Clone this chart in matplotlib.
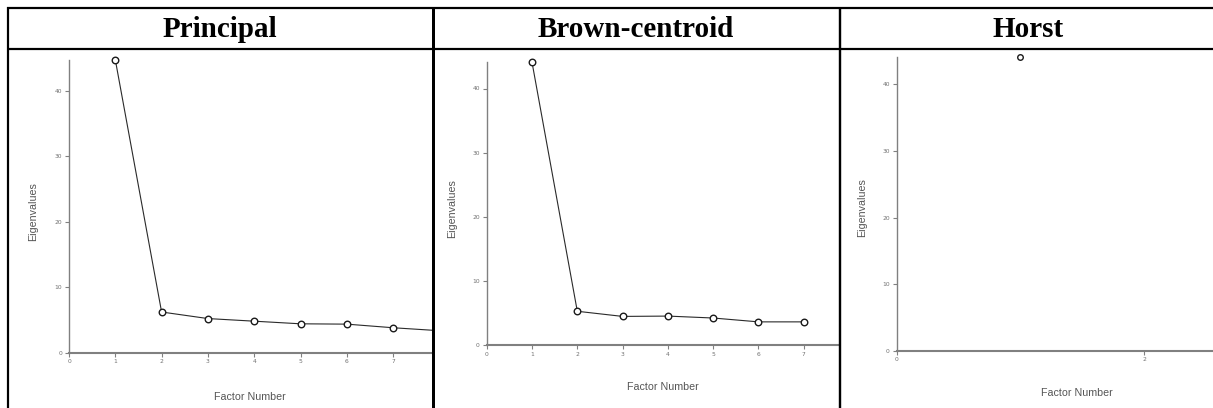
import matplotlib
matplotlib.use("Agg")
import matplotlib.pyplot as plt
from matplotlib.lines import Line2D

# ---- data ----
titles = ["Principal", "Brown-centroid", "Horst"]
principal_factors = [1, 2, 3, 4, 5, 6, 7, 8]
principal_eigen = [44.7, 6.25, 5.25, 4.85, 4.45, 4.4, 3.85, 3.4]
brown_factors = [1, 2, 3, 4, 5, 6, 7]
brown_eigen = [44.1, 5.3, 4.5, 4.55, 4.25, 3.65, 3.65]
horst_factors = [1]
horst_eigen = [44.1]
y_ticks = [0, 10, 20, 30, 40]
principal_xticks = [0, 1, 2, 3, 4, 5, 6, 7]
brown_xticks = [0, 1, 2, 3, 4, 5, 6, 7]
horst_xticks = [0, 2]

W, H = 1213, 408
fig = plt.figure(figsize=(W / 100, H / 100), dpi=100)
fig.patch.set_facecolor("white")


def px_axes(left, top, right, bottom):
    return fig.add_axes([left / W, 1 - bottom / H, (right - left) / W, (bottom - top) / H])


def hline(y, x0, x1, lw=2.2):
    fig.add_artist(Line2D([x0 / W, x1 / W], [1 - y / H, 1 - y / H], color="black",
                          lw=lw * 72 / 100, transform=fig.transFigure, solid_capstyle="butt"))


def vline(x, y0, y1, lw=2.2):
    fig.add_artist(Line2D([x / W, x / W], [1 - y0 / H, 1 - y1 / H], color="black",
                          lw=lw * 72 / 100, transform=fig.transFigure, solid_capstyle="butt"))


# table borders
hline(7.8, 6.8, 1218)
hline(48.6, 6.8, 1218)
vline(7.8, 6.8, 410)
vline(433.0, 6.8, 410, lw=3)
vline(840.0, 6.8, 410, lw=2.4)

# headers
header_x = [220, 636, 1028.5]
for t, hx in zip(titles, header_x):
    fig.text(hx / W, 1 - 36.6 / H, t, ha="center", va="baseline",
             family="Liberation Serif", fontweight="bold", fontsize=21)

# panel geometry: (axis x px, axis y px, px per x unit, px per y unit, right edge px)
panels = [
    (principal_factors, principal_eigen, principal_xticks, 69.0, 353.0, 46.3, 6.56, 431.5, 4.7,
     True, (33.5, 211.5), (249.7, 396.7)),
    (brown_factors, brown_eigen, brown_xticks, 486.7, 345.3, 45.3, 6.42, 838.5, 4.7,
     True, (452.0, 208.5), (663.3, 387.3)),
    (horst_factors, horst_eigen, horst_xticks, 896.7, 350.7, 123.7, 6.66, 1213, 4.0,
     False, (861.7, 207.5), (1077.3, 393.3)),
]

top_px = 50.0
for (fx, ev, xt, ax0, ay0, sx, sy, right, ms, joined, ylab, xlab) in panels:
    ax = px_axes(ax0, top_px, right, ay0)
    ax.set_xlim(0, (right - ax0) / sx)
    ax.set_ylim(0, (ay0 - top_px) / sy)
    ax.patch.set_alpha(0)
    for s in ("top", "right"):
        ax.spines[s].set_visible(False)
    ax.spines["left"].set_bounds(0, max(ev))
    ax.spines["left"].set_color("#808080")
    ax.spines["left"].set_linewidth(1.0)
    ax.spines["bottom"].set_color("#808080")
    ax.spines["bottom"].set_linewidth(1.5)
    ax.set_yticks(y_ticks)
    ax.set_xticks(xt)
    ax.tick_params(axis="both", colors="#808080", labelcolor="#707070", labelsize=4.3,
                   length=3, width=0.8, direction="out")
    ax.tick_params(axis="y", pad=2)
    ax.tick_params(axis="x", pad=1.5)
    ls = "-" if joined else "none"
    ax.plot(fx, ev, linestyle=ls, color="#2a2a2a", lw=0.8, marker="o", markersize=ms,
            markerfacecolor="white", markeredgecolor="#1a1a1a", markeredgewidth=1.0,
            clip_on=True)
    fig.text(ylab[0] / W, 1 - ylab[1] / H, "Eigenvalues", rotation=90, ha="center",
             va="center", family="Liberation Sans", fontsize=7.7, color="#555555")
    fig.text(xlab[0] / W, 1 - xlab[1] / H, "Factor Number", ha="center", va="center",
             family="Liberation Sans", fontsize=7.7, color="#555555")

fig.savefig("out.png", dpi=100)
